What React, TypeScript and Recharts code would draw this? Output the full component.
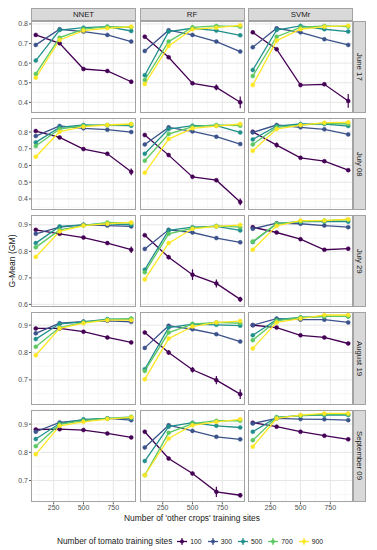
import React from "react";
import { CartesianGrid, ErrorBar, Line, LineChart, XAxis, YAxis } from "recharts";

const MODELS = ["NNET", "RF", "SVMr"];
const DATES = ["June 17", "July 08", "July 29", "August 19", "September 09"];
const OTHER_SITES = [100, 300, 500, 700, 900];
const TOMATO_SITES = [100, 300, 500, 700, 900];
const COLORS = ["#440154", "#3B528B", "#21908C", "#5DC863", "#FDE725"];

const X_TICKS = [250, 500, 750];
const X_MINOR = [125, 375, 625, 875];
const Y_DOMAINS: [number, number][] = [
  [0.344, 0.815],
  [0.332, 0.884],
  [0.589, 0.937],
  [0.611, 0.948],
  [0.623, 0.95],
];
const Y_TICKS = [
  [0.4, 0.5, 0.6, 0.7, 0.8],
  [0.4, 0.5, 0.6, 0.7, 0.8],
  [0.6, 0.7, 0.8, 0.9],
  [0.7, 0.8, 0.9],
  [0.7, 0.8, 0.9],
];
const Y_MINOR = [
  [0.35, 0.45, 0.55, 0.65, 0.75],
  [0.35, 0.45, 0.55, 0.65, 0.75, 0.85],
  [0.65, 0.75, 0.85],
  [0.65, 0.75, 0.85],
  [0.65, 0.75, 0.85],
];

// rows: tomato sites 100..900, columns: other crops sites 100..900
const nnetJun17 = [
  [0.744, 0.701, 0.57, 0.56, 0.505],
  [0.693, 0.773, 0.761, 0.744, 0.71],
  [0.613, 0.769, 0.781, 0.786, 0.764],
  [0.545, 0.73, 0.774, 0.786, 0.783],
  [0.526, 0.718, 0.766, 0.778, 0.786],
];
const nnetJul08 = [
  [0.806, 0.768, 0.698, 0.67, 0.562],
  [0.776, 0.836, 0.822, 0.814, 0.8],
  [0.738, 0.828, 0.842, 0.84, 0.838],
  [0.716, 0.818, 0.838, 0.842, 0.846],
  [0.652, 0.802, 0.832, 0.842, 0.848],
];
const nnetJul29 = [
  [0.881, 0.866, 0.852, 0.831, 0.806],
  [0.866, 0.891, 0.9, 0.897, 0.894],
  [0.831, 0.894, 0.9, 0.904, 0.9],
  [0.815, 0.881, 0.897, 0.909, 0.906],
  [0.779, 0.875, 0.897, 0.904, 0.909],
];
const nnetAug19 = [
  [0.888, 0.888, 0.876, 0.855, 0.837],
  [0.87, 0.907, 0.913, 0.916, 0.912],
  [0.849, 0.905, 0.912, 0.922, 0.922],
  [0.821, 0.891, 0.91, 0.92, 0.924],
  [0.79, 0.888, 0.907, 0.918, 0.918],
];
const nnetSep09 = [
  [0.881, 0.882, 0.879, 0.867, 0.853],
  [0.873, 0.906, 0.914, 0.92, 0.914],
  [0.847, 0.902, 0.917, 0.92, 0.92],
  [0.822, 0.899, 0.912, 0.92, 0.926],
  [0.793, 0.894, 0.908, 0.918, 0.924],
];
const rfJun17 = [
  [0.735, 0.63, 0.497, 0.476, 0.4],
  [0.662, 0.768, 0.744, 0.71, 0.659],
  [0.538, 0.761, 0.778, 0.766, 0.742],
  [0.514, 0.71, 0.783, 0.79, 0.786],
  [0.493, 0.688, 0.773, 0.781, 0.793],
];
const rfJul08 = [
  [0.782, 0.662, 0.532, 0.512, 0.382],
  [0.726, 0.828, 0.804, 0.772, 0.728],
  [0.67, 0.818, 0.838, 0.838, 0.798],
  [0.628, 0.788, 0.832, 0.842, 0.838],
  [0.556, 0.758, 0.822, 0.836, 0.848],
];
const rfJul29 = [
  [0.861, 0.778, 0.712, 0.679, 0.619],
  [0.809, 0.881, 0.871, 0.85, 0.834],
  [0.731, 0.879, 0.891, 0.894, 0.879],
  [0.721, 0.866, 0.887, 0.896, 0.891],
  [0.694, 0.831, 0.885, 0.894, 0.899],
];
const rfAug19 = [
  [0.873, 0.8, 0.737, 0.699, 0.648],
  [0.817, 0.898, 0.885, 0.867, 0.84],
  [0.739, 0.891, 0.904, 0.901, 0.898],
  [0.733, 0.873, 0.904, 0.91, 0.907],
  [0.702, 0.851, 0.895, 0.91, 0.915],
];
const rfSep09 = [
  [0.873, 0.778, 0.725, 0.66, 0.648],
  [0.817, 0.896, 0.876, 0.855, 0.846],
  [0.769, 0.891, 0.905, 0.894, 0.888],
  [0.719, 0.869, 0.902, 0.912, 0.912],
  [0.719, 0.849, 0.896, 0.908, 0.917],
];
const svmJun17 = [
  [0.757, 0.671, 0.488, 0.492, 0.407],
  [0.681, 0.778, 0.757, 0.722, 0.693],
  [0.565, 0.769, 0.79, 0.773, 0.761],
  [0.534, 0.735, 0.783, 0.79, 0.786],
  [0.488, 0.715, 0.773, 0.786, 0.791],
];
const svmJul08 = [
  [0.802, 0.722, 0.646, 0.626, 0.572],
  [0.798, 0.842, 0.828, 0.816, 0.786],
  [0.756, 0.836, 0.848, 0.848, 0.836],
  [0.726, 0.828, 0.842, 0.852, 0.848],
  [0.688, 0.818, 0.842, 0.856, 0.858],
];
const svmJul29 = [
  [0.891, 0.871, 0.846, 0.806, 0.81],
  [0.885, 0.906, 0.904, 0.897, 0.891],
  [0.835, 0.904, 0.912, 0.912, 0.912],
  [0.837, 0.904, 0.912, 0.916, 0.919],
  [0.806, 0.896, 0.916, 0.916, 0.921],
];
const svmAug19 = [
  [0.9, 0.891, 0.863, 0.855, 0.833],
  [0.9, 0.924, 0.92, 0.92, 0.91],
  [0.863, 0.92, 0.928, 0.932, 0.932],
  [0.845, 0.916, 0.928, 0.932, 0.932],
  [0.815, 0.91, 0.924, 0.937, 0.937],
];
const svmSep09 = [
  [0.905, 0.891, 0.873, 0.859, 0.846],
  [0.902, 0.92, 0.918, 0.917, 0.914],
  [0.873, 0.924, 0.93, 0.932, 0.932],
  [0.843, 0.924, 0.93, 0.935, 0.935],
  [0.82, 0.92, 0.932, 0.938, 0.938],
];

// error bar half-widths of the 100 tomato sites series, per date
const nnetErr100 = [
  [0.004, 0.005, 0.007, 0.005, 0.01],
  [0.004, 0.005, 0.006, 0.006, 0.02],
  [0.004, 0.004, 0.004, 0.004, 0.012],
  [0.004, 0.004, 0.004, 0.004, 0.006],
  [0.004, 0.004, 0.004, 0.004, 0.004],
];
const rfErr100 = [
  [0.004, 0.006, 0.006, 0.015, 0.03],
  [0.004, 0.006, 0.006, 0.006, 0.02],
  [0.004, 0.008, 0.02, 0.015, 0.01],
  [0.004, 0.008, 0.01, 0.015, 0.018],
  [0.004, 0.004, 0.006, 0.018, 0.008],
];
const svmErr100 = [
  [0.004, 0.006, 0.01, 0.008, 0.035],
  [0.004, 0.015, 0.006, 0.006, 0.008],
  [0.006, 0.004, 0.004, 0.004, 0.006],
  [0.005, 0.004, 0.004, 0.004, 0.004],
  [0.006, 0.004, 0.004, 0.004, 0.004],
];

const PANELS = [
  [nnetJun17, nnetJul08, nnetJul29, nnetAug19, nnetSep09],
  [rfJun17, rfJul08, rfJul29, rfAug19, rfSep09],
  [svmJun17, svmJul08, svmJul29, svmAug19, svmSep09],
];
const ERRS = [nnetErr100, rfErr100, svmErr100];

const COL_LEFT = [31, 139.5, 248];
const ROW_TOP = [20.7, 117.9, 215.1, 312.3, 409.5];
const PW = 105;
const PH = 92.3;
const Y_AXIS_W = 30;
const X_AXIS_H = 14;
const BORDER = "#a3a3a3";
const FONT = "'Liberation Sans', Arial, sans-serif";

function Panel({ col, row }: { col: number; row: number }) {
  const vals = PANELS[col][row];
  const err = ERRS[col][row];
  const data = OTHER_SITES.map((x, i) => {
    const d: Record<string, number> = { x, e100: err[i] };
    TOMATO_SITES.forEach((t, k) => (d[`s${t}`] = vals[k][i]));
    return d;
  });
  const showY = col === 0;
  const showX = row === 4;
  const w = PW + (showY ? Y_AXIS_W : 0);
  const h = PH + (showX ? X_AXIS_H : 0);
  const tick = { fontSize: 7, fill: "#4d4d4d", fontFamily: FONT };
  return (
    <div style={{ position: "absolute", left: COL_LEFT[col] - (showY ? Y_AXIS_W : 0), top: ROW_TOP[row] }}>
      <LineChart width={w} height={h} data={data} margin={{ top: 0, right: 0, bottom: 0, left: 0 }}>
        <CartesianGrid
          stroke="#f1f1f1"
          strokeWidth={0.6}
          horizontalValues={Y_MINOR[row]}
          verticalValues={X_MINOR}
        />
        <CartesianGrid
          stroke="#e6e6e6"
          strokeWidth={1}
          horizontalValues={Y_TICKS[row]}
          verticalValues={X_TICKS}
        />
        <XAxis
          type="number"
          dataKey="x"
          domain={[60, 940]}
          ticks={X_TICKS}
          hide={!showX}
          height={X_AXIS_H}
          tick={tick}
          tickSize={2}
          tickMargin={1}
          tickLine={{ stroke: "#555" }}
          axisLine={false}
          interval={0}
        />
        <YAxis
          type="number"
          domain={Y_DOMAINS[row]}
          allowDataOverflow
          ticks={Y_TICKS[row]}
          hide={!showY}
          width={Y_AXIS_W}
          tick={tick}
          tickSize={2}
          tickMargin={1}
          tickLine={{ stroke: "#555" }}
          axisLine={false}
          interval={0}
          tickFormatter={(v: number) => v.toFixed(1)}
        />
        {TOMATO_SITES.map((t, k) => (
          <Line
            key={t}
            type="linear"
            dataKey={`s${t}`}
            stroke={COLORS[k]}
            strokeWidth={1.3}
            dot={{ r: 2, fill: COLORS[k], stroke: COLORS[k], strokeWidth: 0.5 }}
            activeDot={false}
            isAnimationActive={false}
          >
            {k === 0 ? (
              <ErrorBar dataKey="e100" width={0} stroke={COLORS[0]} strokeWidth={1.2} direction="y" />
            ) : null}
          </Line>
        ))}
      </LineChart>
    </div>
  );
}

export default function App() {
  return (
    <div
      style={{
        position: "absolute",
        left: 0,
        top: 0,
        width: 377,
        height: 550,
        background: "#fff",
        fontFamily: FONT,
        overflow: "hidden",
      }}
    >
      {MODELS.map((m, c) => (
        <div
          key={m}
          style={{
            position: "absolute",
            left: COL_LEFT[c],
            top: 8.3,
            width: PW,
            height: 12.9,
            background: "#d9d9d9",
            border: `1px solid ${BORDER}`,
            boxSizing: "border-box",
            fontSize: 7.8,
            color: "#1a1a1a",
            display: "flex",
            alignItems: "center",
            justifyContent: "center",
          }}
        >
          {m}
        </div>
      ))}
      {DATES.map((d, r) => (
        <div
          key={d}
          style={{
            position: "absolute",
            left: 352.5,
            top: ROW_TOP[r],
            width: 13.5,
            height: PH,
            background: "#d9d9d9",
            border: `1px solid ${BORDER}`,
            boxSizing: "border-box",
            fontSize: 7.8,
            color: "#1a1a1a",
            display: "flex",
            alignItems: "center",
            justifyContent: "center",
          }}
        >
          <span style={{ writingMode: "vertical-rl", whiteSpace: "nowrap" }}>{d}</span>
        </div>
      ))}
      {MODELS.map((m, c) =>
        DATES.map((d, r) => <Panel key={`${m}-${d}`} col={c} row={r} />),
      )}
      {MODELS.map((m, c) =>
        DATES.map((d, r) => (
          <div
            key={`b-${m}-${d}`}
            style={{
              position: "absolute",
              left: COL_LEFT[c],
              top: ROW_TOP[r],
              width: PW,
              height: PH,
              border: `1px solid ${BORDER}`,
              boxSizing: "border-box",
              pointerEvents: "none",
            }}
          />
        )),
      )}
      <div
        style={{
          position: "absolute",
          left: 12,
          top: 261,
          transform: "translate(-50%, -50%) rotate(-90deg)",
          fontSize: 8.6,
          color: "#1a1a1a",
          whiteSpace: "nowrap",
        }}
      >
        G-Mean (GM)
      </div>
      <div
        style={{
          position: "absolute",
          left: 192,
          top: 518,
          transform: "translate(-50%, -50%)",
          fontSize: 8.4,
          color: "#1a1a1a",
          whiteSpace: "nowrap",
        }}
      >
        Number of 'other crops' training sites
      </div>
      <div
        style={{
          position: "absolute",
          left: 57,
          top: 541,
          transform: "translateY(-50%)",
          display: "flex",
          alignItems: "center",
          fontSize: 8.3,
          color: "#1a1a1a",
          whiteSpace: "nowrap",
        }}
      >
        <span style={{ marginRight: 5 }}>Number of tomato training sites</span>
        {TOMATO_SITES.map((t, k) => (
          <span key={t} style={{ display: "flex", alignItems: "center", marginRight: 6 }}>
            <svg width={10} height={9} style={{ marginRight: 3 }}>
              <line x1={0} y1={4.5} x2={10} y2={4.5} stroke={COLORS[k]} strokeWidth={1.3} />
              <line x1={5} y1={1} x2={5} y2={8} stroke={COLORS[k]} strokeWidth={1.2} />
              <circle cx={5} cy={4.5} r={2} fill={COLORS[k]} />
            </svg>
            <span style={{ fontSize: 6.8, color: "#1a1a1a" }}>{t}</span>
          </span>
        ))}
      </div>
    </div>
  );
}
